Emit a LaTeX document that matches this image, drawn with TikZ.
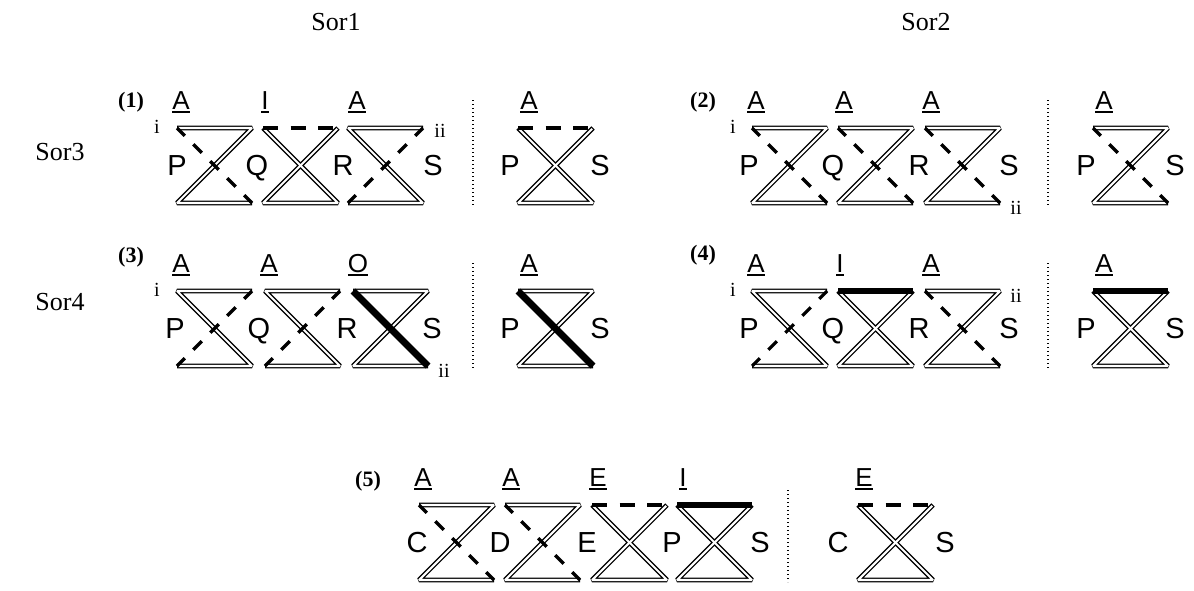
\documentclass[tikz,border=0pt]{standalone}
\usepackage{fontspec}
\setmainfont{Liberation Serif}
\newfontfamily\sansf{Liberation Sans}
\newcommand\dbl[1]{\draw[dblk] #1; \draw[dblw] #1;}
\newcommand\ulbox[1]{\setbox0=\hbox{#1}\rlap{\rule[-3.8pt]{\wd0}{2pt}}\box0}
\tikzset{
  dblk/.style={line width=4.8pt, line join=bevel, line cap=butt},
  dblw/.style={white, line width=2.1pt, line join=bevel, shorten <=1.2pt, shorten >=1.2pt},
  dshd/.style={line width=3.2pt, dash pattern=on 12pt off 12pt, dash phase=1pt},
  dsht/.style={line width=3.4pt, dash pattern=on 15pt off 12.5pt},
  thk/.style={line width=6.8pt},
  dotl/.style={line width=1.4pt, dash pattern=on 1.4pt off 2.6pt},
  lab/.style={font=\sansf\fontsize{26}{30}\selectfont, inner sep=0, anchor=base},
  let/.style={font=\sansf\fontsize{29}{33}\selectfont, inner sep=0, text height=20.8pt, text depth=0pt},
  num/.style={font=\bfseries\fontsize{22}{25}\selectfont, inner sep=0},
  rn/.style={font=\fontsize{20}{22}\selectfont, inner sep=0},
  sor/.style={font=\fontsize{26}{30}\selectfont, inner sep=0},
  pics/zee/.style={code={\dbl{(0,0) -- (75,0) -- (0,75) -- (75,75)}\draw[dshd] (0,0) -- (75,75);}},
  pics/ess/.style={code={\dbl{(75,0) -- (0,0) -- (75,75) -- (0,75)}\draw[dshd] (75,0) -- (0,75);}},
  pics/xdash/.style={code={\dbl{(75,0) -- (0,75) -- (75,75) -- (0,0)}\draw[dsht] (0,0) -- (75,0);}},
  pics/xthick/.style={code={\dbl{(75,0) -- (0,75) -- (75,75) -- (0,0)}\draw[thk] (0,0) -- (75,0);}},
  pics/othick/.style={code={\dbl{(0,0) -- (75,0) -- (0,75) -- (75,75)}\draw[thk] (0,0) -- (75,75);}},
}
\begin{document}
\begin{tikzpicture}[x=1pt,y=-1pt]
\fill[white] (0,0) rectangle (1194,590);
\useasboundingbox (0,0) rectangle (1194,590);
% headers
\node[sor] (sor1) at (336,22) {Sor1};
\node[sor] (sor2) at (926,22) {Sor2};
\node[sor] (sor3) at (60,152) {Sor3};
\node[sor] (sor4) at (60,302) {Sor4};

% ---------- (1) ----------
\node[num] (n1) at (131,102) {(1)};
\pic (u11) at (177,128) {zee};
\pic (u12) at (263,128) {xdash};
\pic (u13) at (348,128) {ess};
\node[lab] (l11) at (181,109) {\ulbox{A}};
\node[lab] (l12) at (265,109) {\ulbox{I}};
\node[lab] (l13) at (357,109) {\ulbox{A}};
\node[let] (p1) at (177,165) {P};
\node[let] (q1) at (257,165) {Q};
\node[let] (r1) at (343,165) {R};
\node[let] (s1) at (433,165) {S};
\node[rn] (i1) at (157,127) {i};
\node[rn] (ii1) at (440,131) {ii};
\draw[dotl] (473,100) -- (473,205);
\pic (u1s) at (518,128) {xdash};
\node[lab] (l1s) at (529,109) {\ulbox{A}};
\node[let] (p1s) at (510,165) {P};
\node[let] (s1s) at (600,165) {S};

% ---------- (2) ----------
\node[num] (n2) at (703,102) {(2)};
\pic (u21) at (752,128) {zee};
\pic (u22) at (838,128) {zee};
\pic (u23) at (925,128) {zee};
\node[lab] (l21) at (756,109) {\ulbox{A}};
\node[lab] (l22) at (844,109) {\ulbox{A}};
\node[lab] (l23) at (931,109) {\ulbox{A}};
\node[let] (p2) at (749,165) {P};
\node[let] (q2) at (833,165) {Q};
\node[let] (r2) at (919,165) {R};
\node[let] (s2) at (1009,165) {S};
\node[rn] (i2) at (733,127) {i};
\node[rn] (ii2) at (1016,208) {ii};
\draw[dotl] (1048,100) -- (1048,205);
\pic (u2s) at (1093,128) {zee};
\node[lab] (l2s) at (1104,109) {\ulbox{A}};
\node[let] (p2s) at (1086,165) {P};
\node[let] (s2s) at (1175,165) {S};

% ---------- (3) ----------
\node[num] (n3) at (131,257) {(3)};
\pic (u31) at (177,291) {ess};
\pic (u32) at (265,291) {ess};
\pic (u33) at (353,291) {othick};
\node[lab] (l31) at (181,272) {\ulbox{A}};
\node[lab] (l32) at (269,272) {\ulbox{A}};
\node[lab] (l33) at (358,272) {\ulbox{O}};
\node[let] (p3) at (175,328) {P};
\node[let] (q3) at (259,328) {Q};
\node[let] (r3) at (347,328) {R};
\node[let] (s3) at (432,328) {S};
\node[rn] (i3) at (157,290) {i};
\node[rn] (ii3) at (444,371) {ii};
\draw[dotl] (473,263) -- (473,368);
\pic (u3s) at (518,291) {othick};
\node[lab] (l3s) at (529,272) {\ulbox{A}};
\node[let] (p3s) at (510,328) {P};
\node[let] (s3s) at (600,328) {S};

% ---------- (4) ----------
\node[num] (n4) at (703,255) {(4)};
\pic (u41) at (752,291) {ess};
\pic (u42) at (838,291) {xthick};
\pic (u43) at (925,291) {zee};
\node[lab] (l41) at (756,272) {\ulbox{A}};
\node[lab] (l42) at (840,272) {\ulbox{I}};
\node[lab] (l43) at (931,272) {\ulbox{A}};
\node[let] (p4) at (749,328) {P};
\node[let] (q4) at (833,328) {Q};
\node[let] (r4) at (919,328) {R};
\node[let] (s4) at (1009,328) {S};
\node[rn] (i4) at (733,290) {i};
\node[rn] (ii4) at (1016,296) {ii};
\draw[dotl] (1048,263) -- (1048,368);
\pic (u4s) at (1093,291) {xthick};
\node[lab] (l4s) at (1104,272) {\ulbox{A}};
\node[let] (p4s) at (1086,328) {P};
\node[let] (s4s) at (1175,328) {S};

% ---------- (5) ----------
\node[num] (n5) at (368,481) {(5)};
\pic (u51) at (419,505) {zee};
\pic (u52) at (505,505) {zee};
\pic (u53) at (592,505) {xdash};
\pic (u54) at (677,505) {xthick};
\node[lab] (l51) at (423,486) {\ulbox{A}};
\node[lab] (l52) at (511,486) {\ulbox{A}};
\node[lab] (l53) at (598,486) {\ulbox{E}};
\node[lab] (l54) at (683,486) {\ulbox{I}};
\node[let] (c5) at (417,542) {C};
\node[let] (d5) at (500,542) {D};
\node[let] (e5) at (587,542) {E};
\node[let] (p5) at (672,542) {P};
\node[let] (s5) at (760,542) {S};
\draw[dotl] (788,490) -- (788,582);
\pic (u5s) at (858,505) {xdash};
\node[lab] (l5s) at (864,486) {\ulbox{E}};
\node[let] (c5s) at (838,542) {C};
\node[let] (s5s) at (945,542) {S};
\end{tikzpicture}
\end{document}
